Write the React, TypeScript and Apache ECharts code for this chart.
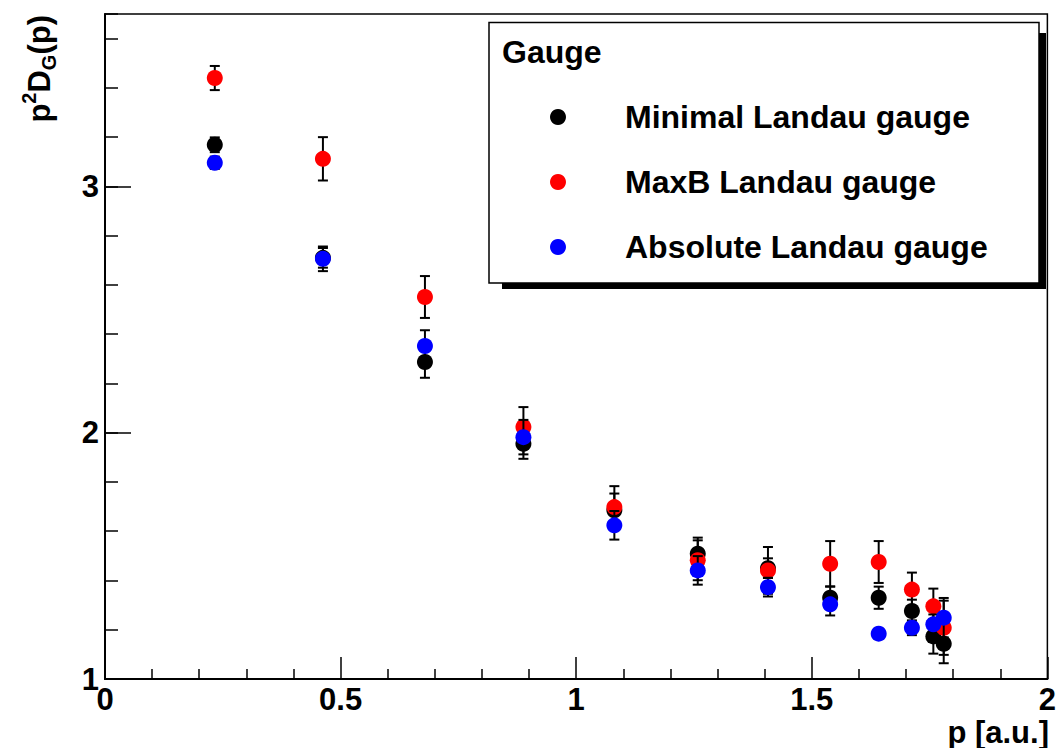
import React, { useEffect, useRef } from "react";
import * as echarts from "echarts";

// momentum values (shared by all three gauges)
const momenta = [0.233, 0.4625, 0.679, 0.888, 1.081, 1.258, 1.407, 1.539, 1.642, 1.7125, 1.758, 1.78];

const minimalValues = [3.169, 2.71, 2.287, 1.955, 1.685, 1.509, 1.45, 1.33, 1.33, 1.276, 1.173, 1.143];
const minimalErrors = [0.03, 0.04, 0.064, 0.061, 0.068, 0.065, 0.04, 0.045, 0.045, 0.046, 0.07, 0.079];

const maxBValues = [3.44, 3.112, 2.551, 2.023, 1.698, 1.482, 1.441, 1.468, 1.475, 1.363, 1.295, 1.208];
const maxBErrors = [0.049, 0.088, 0.085, 0.081, 0.085, 0.081, 0.095, 0.092, 0.085, 0.069, 0.072, 0.11];

const absoluteValues = [3.096, 2.706, 2.352, 1.982, 1.624, 1.441, 1.373, 1.303, 1.184, 1.208, 1.222, 1.249];
const absoluteErrors = [0.025, 0.05, 0.064, 0.07, 0.058, 0.058, 0.038, 0.045, 0.02, 0.03, 0.04, 0.08];

const seriesNames = ["Minimal Landau gauge", "MaxB Landau gauge", "Absolute Landau gauge"];
const seriesColors = ["#000000", "#ff0000", "#0000ff"];
const legendTitle = "Gauge";
const xTitle = "p [a.u.]";

const xMin = 0;
const xMax = 2;
const xMajor = 0.5;
const yMin = 1;
const yMax = 3.7;
const yMajor = 1;
const yMinor = 0.2;

const FONT = "Liberation Sans";

export default function App() {
  const ref = useRef<HTMLDivElement>(null);

  useEffect(() => {
    if (!ref.current) return;
    const chart = echarts.init(ref.current, null, { renderer: "svg" });

    const groups = [
      { values: minimalValues, errors: minimalErrors },
      { values: maxBValues, errors: maxBErrors },
      { values: absoluteValues, errors: absoluteErrors },
    ];

    const series: any[] = [];
    groups.forEach((g, i) => {
      const data = momenta.map((p, k) => [p, g.values[k], g.errors[k]]);
      series.push({
        name: seriesNames[i] + " errors",
        type: "custom",
        xAxisIndex: 0,
        yAxisIndex: 0,
        z: 2 + i * 2,
        encode: { x: 0, y: 1 },
        data,
        renderItem: (params: any, api: any) => {
          const x = api.value(0);
          const y = api.value(1);
          const e = api.value(2);
          const top = api.coord([x, y + e]);
          const bot = api.coord([x, y - e]);
          const hw = 5;
          const style = { stroke: "#000", lineWidth: 2 };
          return {
            type: "group",
            children: [
              { type: "line", shape: { x1: top[0], y1: top[1], x2: bot[0], y2: bot[1] }, style },
              { type: "line", shape: { x1: top[0] - hw, y1: top[1], x2: top[0] + hw, y2: top[1] }, style },
              { type: "line", shape: { x1: bot[0] - hw, y1: bot[1], x2: bot[0] + hw, y2: bot[1] }, style },
            ],
          };
        },
      });
      series.push({
        name: seriesNames[i],
        type: "scatter",
        xAxisIndex: 0,
        yAxisIndex: 0,
        z: 3 + i * 2,
        symbol: "circle",
        symbolSize: 16,
        itemStyle: { color: seriesColors[i], opacity: 1 },
        data: momenta.map((p, k) => [p, g.values[k]]),
      });
    });

    const labelStyle = {
      fontFamily: FONT,
      fontWeight: "bold" as const,
      fontSize: 31,
      color: "#000",
    };

    chart.setOption({
      animation: false,
      backgroundColor: "#fff",
      grid: {
        left: 105,
        right: 10,
        top: 14,
        bottom: 69,
        show: true,
        borderColor: "#000",
        borderWidth: 1.5,
        backgroundColor: "transparent",
      },
      xAxis: {
        type: "value",
        min: xMin,
        max: xMax,
        interval: xMajor,
        axisLine: { show: true, lineStyle: { color: "#000", width: 2 } },
        axisTick: { show: true, inside: true, length: 22, lineStyle: { color: "#000", width: 1.5 } },
        minorTick: { show: true, splitNumber: 5, length: 10, lineStyle: { color: "#000", width: 1.5 } },
        splitLine: { show: false },
        axisLabel: { ...labelStyle, margin: 5 },
      },
      yAxis: [
        {
          type: "value",
          min: yMin,
          max: yMax,
          interval: yMajor,
          axisLine: { show: true, lineStyle: { color: "#000", width: 2 } },
          axisTick: { show: true, inside: true, length: 26, lineStyle: { color: "#000", width: 1.5 } },
          splitLine: { show: false },
          axisLabel: { ...labelStyle, margin: 6, showMaxLabel: false, padding: [8, 0, 0, 0] },
        },
        {
          type: "value",
          min: yMin,
          max: yMax,
          interval: yMinor,
          position: "left",
          axisLine: { show: false },
          axisTick: { show: true, inside: true, length: 13, lineStyle: { color: "#000", width: 1.5 } },
          splitLine: { show: false },
          axisLabel: { show: false },
        },
      ],
      legend: {
        data: seriesNames,
        orient: "vertical",
        left: 550,
        top: 101,
        padding: 0,
        itemWidth: 16,
        itemHeight: 16,
        itemGap: 33,
        icon: "circle",
        selectedMode: false,
        z: 20,
        textStyle: { ...labelStyle, fontSize: 32, lineHeight: 30, padding: [0, 0, 0, 54] },
      },
      graphic: [
        {
          type: "rect",
          z: 10,
          shape: { x: 502, y: 33, width: 544, height: 256 },
          style: { fill: "#000" },
        },
        {
          type: "rect",
          z: 11,
          shape: { x: 489, y: 22.5, width: 550, height: 260.5 },
          style: { fill: "#fff", stroke: "#000", lineWidth: 1.5 },
        },
        {
          type: "text",
          z: 12,
          x: 502,
          y: 52,
          style: {
            text: legendTitle,
            fill: "#000",
            font: `bold 32px "${FONT}"`,
            textAlign: "left",
            textVerticalAlign: "middle",
            verticalAlign: "middle",
          },
        },
        {
          type: "text",
          z: 12,
          x: 1049,
          y: 732,
          style: {
            text: xTitle,
            fill: "#000",
            font: `bold 31px "${FONT}"`,
            textAlign: "right",
            align: "right",
            verticalAlign: "middle",
            textVerticalAlign: "middle",
          },
        },
        {
          type: "text",
          z: 12,
          x: 39,
          y: 15,
          rotation: Math.PI / 2,
          style: {
            text: "{a|p}{sup|2}{a|D}{sub|G}{a|(p)}",
            fill: "#000",
            align: "right",
            textAlign: "right",
            verticalAlign: "middle",
            textVerticalAlign: "middle",
            rich: {
              a: { fontFamily: FONT, fontWeight: "bold", fontSize: 31, lineHeight: 40, fill: "#000", color: "#000" },
              sup: { fontFamily: FONT, fontWeight: "bold", fontSize: 20, lineHeight: 22, verticalAlign: "top", fill: "#000", color: "#000" },
              sub: { fontFamily: FONT, fontWeight: "bold", fontSize: 20, lineHeight: 22, verticalAlign: "bottom", fill: "#000", color: "#000" },
            },
          },
        },
      ],
      series,
    });

    return () => chart.dispose();
  }, []);

  return (
    <div
      ref={ref}
      style={{ position: "fixed", left: 0, top: 0, width: 1059, height: 748, background: "#fff" }}
    />
  );
}
